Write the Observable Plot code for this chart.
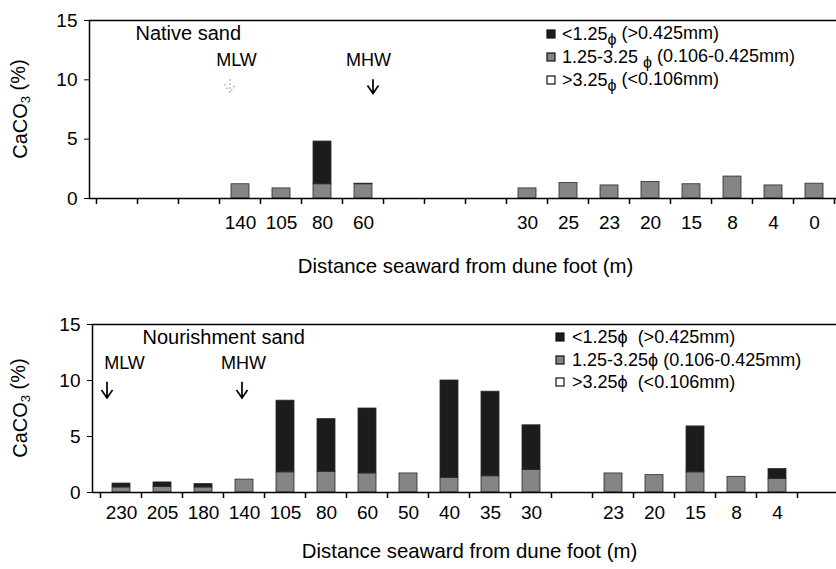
<!DOCTYPE html>
<html><head><meta charset="utf-8">
<script src="https://cdn.jsdelivr.net/npm/d3@7"></script>
<script src="https://cdn.jsdelivr.net/npm/@observablehq/plot@0.6"></script>
<style>
body{margin:0;background:#fff;}
#chart svg{display:block;}
</style></head><body><div id="chart"></div>
<script>
// ---- data ----
const sizeClasses = ["medium", "coarse", "fine"]; // stacking order
const yTicks = [0, 5, 10, 15];
const xTitle = "Distance seaward from dune foot (m)";

const nativeLabels = ["", "", "", "140", "105", "80", "60", "", "", "", "30", "25", "23", "20", "15", "8", "4", "0"];
const nativeMedium = [null, null, null, 1.2, 0.85, 1.2, 1.2, null, null, null, 0.85, 1.3, 1.1, 1.4, 1.2, 1.85, 1.1, 1.25];
const nativeCoarse = [null, null, null, 0, 0, 3.6, 0.05, null, null, null, 0, 0, 0, 0, 0, 0, 0, 0];
const nativeFine   = [null, null, null, 0, 0, 0, 0, null, null, null, 0, 0, 0, 0, 0, 0, 0, 0];

const nourLabels = ["230", "205", "180", "140", "105", "80", "60", "50", "40", "35", "30", "", "23", "20", "15", "8", "4", ""];
const nourMedium = [0.45, 0.5, 0.45, 1.15, 1.8, 1.85, 1.7, 1.7, 1.3, 1.45, 2.0, null, 1.7, 1.55, 1.8, 1.4, 1.2, null];
const nourCoarse = [0.35, 0.4, 0.3, 0, 6.4, 4.7, 5.8, 0, 8.7, 7.55, 4.0, null, 0, 0, 4.1, 0, 0.9, null];
const nourFine   = [0, 0, 0, 0, 0, 0, 0, 0, 0, 0, 0, null, 0, 0, 0, 0, 0, null];

const legendNative = [
  [["<1.25", ""], ["ϕ", "sub"], [" (>0.425mm)", ""]],
  [["1.25-3.25 ", ""], ["ϕ", "sub"], [" (0.106-0.425mm)", ""]],
  [[">3.25", ""], ["ϕ", "sub"], [" (<0.106mm)", ""]]
];
const legendNour = [
  [["<1.25ϕ  (>0.425mm)", ""]],
  [["1.25-3.25ϕ (0.106-0.425mm)", ""]],
  [[">3.25ϕ  (<0.106mm)", ""]]
];
const legendClasses = ["coarse", "medium", "fine"];

const FONT = "Liberation Sans, Arial, Helvetica, sans-serif";
const colors = {medium: "#858585", coarse: "#1c1c1c", fine: "#ffffff"};

function tidy(labels, medium, coarse, fine) {
  const rows = [];
  labels.forEach((l, i) => {
    const vals = {medium: medium[i], coarse: coarse[i], fine: fine[i]};
    for (const c of sizeClasses) if (vals[c] != null) rows.push({key: String(i), cls: c, value: vals[c]});
  });
  return rows;
}

function boundaryTicks(len) {
  return (I, {x, y}) => {
    const g = d3.create("svg:g").attr("stroke", "black").attr("stroke-width", 1.5);
    const dom = x.domain();
    const half = (x.step() - x.bandwidth()) / 2;
    const y0 = y(0);
    dom.forEach(k => {
      const bx = x(k) - half;
      g.append("line").attr("x1", bx).attr("x2", bx).attr("y1", y0).attr("y2", y0 + len);
    });
    const last = x(dom[dom.length - 1]) + x.bandwidth() + half;
    g.append("line").attr("x1", last).attr("x2", last).attr("y1", y0).attr("y2", y0 + len);
    return g.node();
  };
}

function arrows(list) {
  return (I, {x, y}) => {
    const g = d3.create("svg:g").attr("fill", "none");
    list.forEach(a => {
      const cx = x(a.k) + x.bandwidth() / 2 + a.dx;
      const y1 = y(a.top), y2 = y(a.tip);
      g.append("path")
        .attr("d", `M${cx},${y1}V${y2}M${cx - 5.5},${y2 - 8}L${cx},${y2}L${cx + 5.5},${y2 - 8}`)
        .attr("stroke", a.color || "black").attr("stroke-width", 1.7)
        .attr("stroke-dasharray", a.dash || null);
    });
    return g.node();
  };
}

function yTitle(cx) {
  return (I, {y}) => {
    const cy = (y(0) + y(15)) / 2;
    const t = d3.create("svg:text")
      .attr("transform", `translate(${cx},${cy}) rotate(-90)`)
      .attr("text-anchor", "middle").attr("dominant-baseline", "middle")
      .attr("font-size", 20).attr("font-family", FONT).attr("fill", "black");
    t.append("tspan").text("CaCO");
    t.append("tspan").attr("font-size", 13).attr("dy", "0.35em").text("3");
    t.append("tspan").attr("dy", "-0.35em").text(" (%)");
    return t.node();
  };
}

function legend(rows, sx, tx, ys) {
  return () => {
    const g = d3.create("svg:g").attr("font-family", FONT).attr("font-size", 18).attr("fill", "black")
      .attr("text-anchor", "start");
    rows.forEach((parts, i) => {
      const cls = legendClasses[i];
      g.append("rect").attr("x", sx).attr("y", ys[i] - 4).attr("width", 8).attr("height", 8)
        .attr("fill", colors[cls]).attr("stroke", "#111").attr("stroke-width", 1.2);
      const t = g.append("text").attr("x", tx).attr("y", ys[i] + 6).attr("text-anchor", "start")
        .style("white-space", "pre");
      let shift = null;
      parts.forEach(([s, kind]) => {
        const ts = t.append("tspan").text(s);
        if (kind === "sub") { ts.attr("font-size", 16).attr("dy", "0.3em"); shift = "-0.3em"; }
        else if (shift) { ts.attr("dy", shift); shift = null; }
      });
    });
    return g.node();
  };
}

function chart(o) {
  const data = tidy(o.labels, o.medium, o.coarse, o.fine);
  const domain = o.labels.map((_, i) => String(i));
  return Plot.plot({
    width: 836,
    height: o.height,
    marginLeft: o.marginLeft,
    marginRight: o.marginRight,
    marginTop: o.marginTop,
    marginBottom: o.marginBottom,
    style: {fontFamily: FONT, fontSize: "19px", color: "black", background: "white"},
    x: {domain, paddingInner: 0.57, paddingOuter: 0.285, tickSize: 0, tickPadding: o.tickPadding,
        tickFormat: i => o.labels[+i], label: null},
    y: {domain: [0, 15], ticks: yTicks, tickSize: 5, tickPadding: 7, label: null},
    color: {domain: sizeClasses, range: sizeClasses.map(c => colors[c])},
    marks: [
      Plot.barY(data, Plot.stackY({x: "key", y: "value", fill: "cls", stroke: "#2a2a2a", strokeWidth: 0.8})),
      Plot.frame({stroke: "black", strokeWidth: 1.5}),
      boundaryTicks(6),
      Plot.text([o.name], {frameAnchor: "top-left", dx: o.nameDx, dy: 13, fontSize: 20, textAnchor: "start", lineAnchor: "middle"}),
      ...o.marks.map(m => Plot.text([m], {x: "k", y: "v", text: "t", dx: m.dx, fontSize: 18})),
      arrows(o.arrows),
      Plot.text([xTitle], {frameAnchor: "bottom", dy: o.titleDy, lineAnchor: "top", fontSize: 20.4}),
      yTitle(22),
      o.legend
    ]
  });
}

const topChart = chart({
  labels: nativeLabels, medium: nativeMedium, coarse: nativeCoarse, fine: nativeFine,
  height: 290, marginLeft: 89, marginRight: -5, marginTop: 20, marginBottom: 92,
  tickPadding: 17, titleDy: 60, name: "Native sand", nameDx: 46,
  marks: [{k: "3", v: 11.63, t: "MLW", dx: -4}, {k: "6", v: 11.63, t: "MHW", dx: 5}],
  arrows: [
    {k: "3", top: 10.0, tip: 8.9, dx: -10, color: "#b5b5b5", dash: "1.5,2.5"},
    {k: "6", top: 10.0, tip: 8.8, dx: 10}
  ],
  legend: legend(legendNative, 547, 562, [34, 57, 80])
});

const bottomChart = chart({
  labels: nourLabels, medium: nourMedium, coarse: nourCoarse, fine: nourFine,
  height: 279, marginLeft: 92, marginRight: -10, marginTop: 34, marginBottom: 77,
  tickPadding: 13, titleDy: 51, name: "Nourishment sand", nameDx: 50,
  marks: [{k: "0", v: 11.52, t: "MLW", dx: 3}, {k: "3", v: 11.52, t: "MHW", dx: -1}],
  arrows: [
    {k: "0", top: 9.85, tip: 8.4, dx: -14},
    {k: "3", top: 9.85, tip: 8.4, dx: -2}
  ],
  legend: legend(legendNour, 556, 572, [47, 70, 92])
});

document.getElementById("chart").append(topChart, bottomChart);
</script></body></html>
